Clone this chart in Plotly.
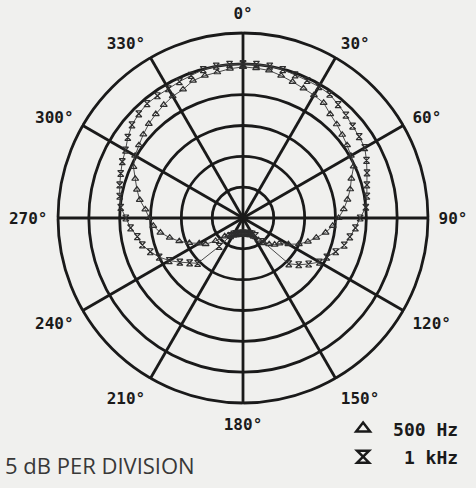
import plotly.graph_objects as go

angles = list(range(0, 360, 5))

# 500 Hz response (dB above the centre of the 30 dB scale, 5 dB per ring)
hz500 = [24.5, 24.4, 24.3, 23.9, 23.5, 23.2, 23.0, 22.8, 22.0, 21.5, 21.0, 20.6,
         20.2, 19.8, 18.7, 18.0, 17.2, 16.4, 15.5, 14.6, 13.6, 12.3, 11.2, 10.0,
         8.5, 7.2, 6.7, 6.0, 5.2, 4.4, 3.5, 3.0, 2.7, 2.6, 2.5, 2.5,
         2.5, 2.5, 2.5, 2.6, 2.8, 3.0, 3.2, 3.5, 3.7, 4.2, 5.8, 7.4,
         8.2, 9.6, 11.0, 12.3, 13.6, 14.6, 15.2, 15.9, 17.0, 17.8, 18.6, 19.6,
         20.2, 20.6, 21.1, 21.6, 22.0, 22.4, 22.8, 23.0, 23.7, 23.9, 24.0, 24.3]

# 1 kHz response
khz1 = [25.0, 25.0, 25.0, 24.9, 24.7, 24.6, 24.6, 24.5, 24.0, 23.6, 23.2, 23.0,
        22.8, 22.1, 21.4, 20.8, 20.4, 20.0, 19.0, 18.3, 17.6, 17.0, 16.0, 15.0,
        14.3, 13.0, 11.8, 10.5, 5.0, 3.5, 3.0, 2.8, 2.7, 2.6, 2.5, 2.5,
        2.5, 2.5, 2.5, 2.6, 2.7, 2.8, 3.0, 3.5, 6.0, 10.4, 11.3, 12.5,
        13.8, 15.0, 16.0, 16.9, 17.4, 18.3, 19.0, 19.9, 20.3, 20.7, 21.1, 21.6,
        22.0, 22.8, 23.5, 23.9, 24.2, 24.2, 24.2, 24.4, 24.6, 24.9, 25.0, 25.0]

tick_angles = list(range(0, 360, 30))
tick_labels = [f"{a}°" for a in tick_angles]

series_names = ["500 Hz", "\u00a01 kHz"]

BG = "#f0f0ee"
INK = "#1a1a1a"
MONO = "DejaVu Sans Mono"

fig = go.Figure()

th5 = angles + [angles[0]]
fig.add_trace(go.Scatterpolar(
    r=hz500 + [hz500[0]], theta=th5, mode="lines+markers", hoverinfo="skip",
    line=dict(color="#4a4a4a", width=1),
    marker=dict(symbol="triangle-up-open", size=6, color="#2e2e2e", line=dict(width=1.2)),
    showlegend=False))
fig.add_trace(go.Scatterpolar(
    r=khz1 + [khz1[0]], theta=th5, mode="lines+markers", hoverinfo="skip",
    line=dict(color="#4a4a4a", width=1),
    marker=dict(symbol="hourglass-open", size=6, color="#2e2e2e", line=dict(width=1.2)),
    showlegend=False))

# legend-only entries
fig.add_trace(go.Scatterpolar(
    r=[None], theta=[None], mode="markers", name=series_names[0], legend="legend",
    marker=dict(symbol="triangle-up-open", size=12, color=INK, line=dict(width=2.5))))
fig.add_trace(go.Scatterpolar(
    r=[None], theta=[None], mode="markers", name=series_names[1], legend="legend2",
    marker=dict(symbol="hourglass-open", size=12, color=INK, line=dict(width=2.5))))

legend_font = dict(family=MONO, size=18, color=INK, weight="bold")

fig.update_layout(
    width=476, height=488, autosize=False,
    paper_bgcolor=BG, plot_bgcolor=BG, hovermode=False,
    margin=dict(l=58, r=36, t=33, b=73),
    polar=dict(
        bgcolor=BG,
        domain=dict(x=[0, 1], y=[0, 1]),
        radialaxis=dict(range=[0, 30], dtick=5, tick0=0, showticklabels=False,
                        ticks="", showline=False, gridcolor=INK, gridwidth=2.8),
        angularaxis=dict(direction="clockwise", rotation=90,
                         tickmode="array", tickvals=tick_angles, ticktext=tick_labels,
                         ticks="outside", ticklen=6, tickcolor=BG, tickwidth=1,
                         showline=True, linecolor=INK, linewidth=2.8,
                         gridcolor=INK, gridwidth=2.8,
                         tickfont=dict(family=MONO, size=16, color=INK, weight="bold")),
    ),
    legend=dict(x=0.7435, y=-0.02, xanchor="left", yanchor="top", bgcolor="rgba(0,0,0,0)",
                font=legend_font, itemwidth=50),
    legend2=dict(x=0.7435, y=-0.096, xanchor="left", yanchor="top", bgcolor="rgba(0,0,0,0)",
                 font=legend_font, itemwidth=50),
    annotations=[dict(text="5 dB PER DIVISION", xref="paper", yref="paper",
                      x=-0.150, y=-0.168, xanchor="left", yanchor="middle", showarrow=False,
                      font=dict(family="Open Sans", size=22, color="#383838"))],
)

fig.write_html("out.html", config={"displayModeBar": False, "staticPlot": True},
               post_script="document.body.style.margin='0';")
